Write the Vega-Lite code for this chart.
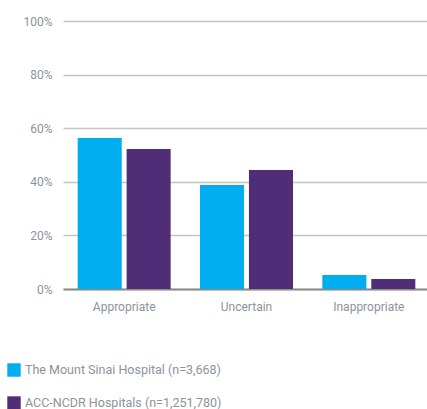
{
  "$schema": "https://vega.github.io/schema/vega-lite/v6.json",
  "autosize": "none",
  "width": 367,
  "height": 268,
  "padding": {"left": 63, "top": 21, "right": -3, "bottom": 120},
  "background": "white",
  "data": {"values": [
    {"category": "Appropriate", "group": "The Mount Sinai Hospital (n=3,668)", "value": 56.3},
    {"category": "Appropriate", "group": "ACC-NCDR Hospitals (n=1,251,780)", "value": 52.2},
    {"category": "Uncertain", "group": "The Mount Sinai Hospital (n=3,668)", "value": 38.8},
    {"category": "Uncertain", "group": "ACC-NCDR Hospitals (n=1,251,780)", "value": 44.4},
    {"category": "Inappropriate", "group": "The Mount Sinai Hospital (n=3,668)", "value": 5.2},
    {"category": "Inappropriate", "group": "ACC-NCDR Hospitals (n=1,251,780)", "value": 3.7}
  ]},
  "config": {
    "view": {"stroke": null},
    "font": "Roboto"
  },
  "mark": {"type": "bar"},
  "encoding": {
    "x": {
      "field": "category", "type": "nominal",
      "sort": ["Appropriate", "Uncertain", "Inappropriate"],
      "scale": {"paddingInner": 0.24, "paddingOuter": 0.12},
      "axis": {
        "title": null, "labelAngle": 0, "ticks": false,
        "domainColor": "#8a8a8a", "domainWidth": 2,
        "labelColor": "#8c939a", "labelFontSize": 12, "labelPadding": 12
      }
    },
    "xOffset": {
      "field": "group", "type": "nominal",
      "sort": ["The Mount Sinai Hospital (n=3,668)", "ACC-NCDR Hospitals (n=1,251,780)"],
      "scale": {"paddingInner": 0.1, "paddingOuter": 0}
    },
    "y": {
      "field": "value", "type": "quantitative",
      "scale": {"domain": [0, 100]},
      "axis": {
        "title": null, "values": [0, 20, 40, 60, 80, 100],
        "labelExpr": "datum.value + '%'",
        "domain": false, "ticks": false,
        "gridColor": "#c4c4c4", "gridWidth": 1.5,
        "labelColor": "#8c939a", "labelFontSize": 12, "labelPadding": 11
      }
    },
    "color": {
      "field": "group", "type": "nominal",
      "sort": ["The Mount Sinai Hospital (n=3,668)", "ACC-NCDR Hospitals (n=1,251,780)"],
      "scale": {"range": ["#00ADEE", "#502D76"]},
      "legend": {
        "title": null, "orient": "none", "legendX": -56, "legendY": 342,
        "direction": "vertical", "symbolType": "square", "symbolSize": 180,
        "symbolStrokeWidth": 0, "symbolOpacity": 1,
        "labelColor": "#8c939a", "labelFontSize": 12.5, "rowPadding": 19,
        "labelLimit": 400
      }
    }
  }
}
